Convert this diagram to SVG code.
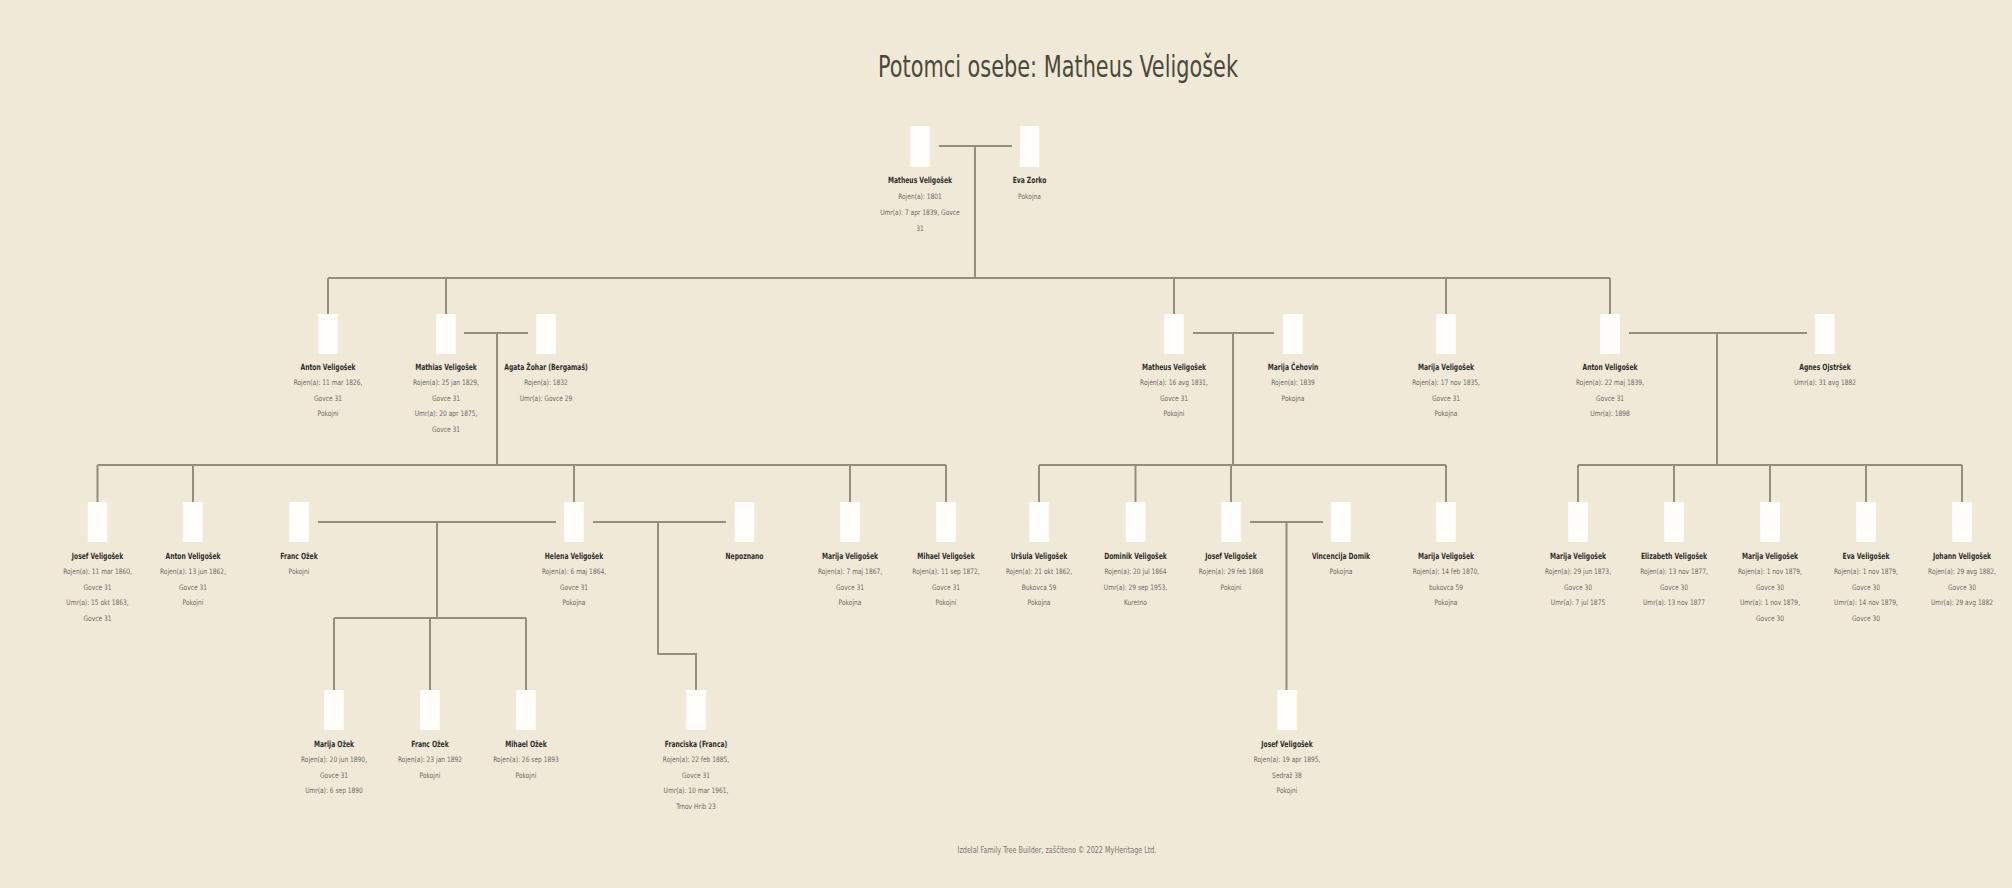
<svg xmlns="http://www.w3.org/2000/svg" width="2012" height="888" viewBox="0 0 2012 888">
<style>
.bg{fill:#f0e9d8}
.box{fill:#fffefa}
.ln{stroke:#958e7d;stroke-width:2;fill:none}
.nm{font-family:"Liberation Sans Narrow","DejaVu Sans Condensed","Liberation Sans",sans-serif;font-weight:bold;font-size:8.5px;fill:#2e2e2a;text-anchor:middle;transform:scaleX(0.79)}
.dt{font-family:"Liberation Sans Narrow","DejaVu Sans Condensed","Liberation Sans",sans-serif;font-size:7.5px;fill:#6e6b63;text-anchor:middle;transform:scaleX(0.88)}
.title{font-family:"Liberation Sans Narrow","DejaVu Sans Condensed","Liberation Sans",sans-serif;font-size:31px;fill:#4a4a3c;text-anchor:middle}
.foot{font-family:"Liberation Sans Narrow","DejaVu Sans Condensed","Liberation Sans",sans-serif;font-size:9px;fill:#7a776e;text-anchor:middle}
</style>
<rect class="bg" x="0" y="0" width="2012" height="888"/>
<text class="title" x="1058" y="77" textLength="360" lengthAdjust="spacingAndGlyphs">Potomci osebe: Matheus Veligošek</text>

<g id="connectors">
<path class="ln" d="M939 146H1012M975 146V278M328 278H1610M328 278V314M446 278V314M1174 278V314M1446 278V314M1610 278V314"/>
<path class="ln" d="M464 333H528M497 333V465M97.5 465H946M97.5 465V502M193 465V502M574 465V502M850 465V502M946 465V502"/>
<path class="ln" d="M1193 333H1274M1233 333V465M1039 465H1446M1039 465V502M1135.5 465V502M1231 465V502M1446 465V502"/>
<path class="ln" d="M1629 333H1807M1717 333V465M1578 465H1962M1578 465V502M1674 465V502M1770 465V502M1866 465V502M1962 465V502"/>
<path class="ln" d="M318 522H556M437 522V618M334 618H526M334 618V690M430 618V690M526 618V690"/>
<path class="ln" d="M593 522H726M658 522V654H696V690"/>
<path class="ln" d="M1250 522H1323M1286.5 522V690"/>
</g>

<g id="n-matheus0" transform="translate(920 0)"><rect class="box" x="-9.75" y="126" width="19.5" height="41"/><text class="nm" y="183">Matheus Veligošek</text><text class="dt" y="199">Rojen(a): 1801</text><text class="dt" y="215.5">Umr(a): 7 apr 1839, Govce</text><text class="dt" y="231">31</text></g>
<g id="n-eva0" transform="translate(1029.5 0)"><rect class="box" x="-9.75" y="126" width="19.5" height="41"/><text class="nm" y="183">Eva Zorko</text><text class="dt" y="199">Pokojna</text></g>

<g id="n-anton1" transform="translate(328 0)"><rect class="box" x="-9.75" y="314" width="19.5" height="40"/><text class="nm" y="370">Anton Veligošek</text><text class="dt" y="385.5">Rojen(a): 11 mar 1826,</text><text class="dt" y="401">Govce 31</text><text class="dt" y="416.5">Pokojni</text></g>
<g id="n-mathias1" transform="translate(446 0)"><rect class="box" x="-9.75" y="314" width="19.5" height="40"/><text class="nm" y="370">Mathias Veligošek</text><text class="dt" y="385.5">Rojen(a): 25 jan 1829,</text><text class="dt" y="401">Govce 31</text><text class="dt" y="416.5">Umr(a): 20 apr 1875,</text><text class="dt" y="432">Govce 31</text></g>
<g id="n-agata1" transform="translate(546 0)"><rect class="box" x="-9.75" y="314" width="19.5" height="40"/><text class="nm" y="370">Agata Žohar (Bergamaš)</text><text class="dt" y="385.5">Rojen(a): 1832</text><text class="dt" y="401">Umr(a): Govce 29</text></g>
<g id="n-matheus1" transform="translate(1174 0)"><rect class="box" x="-9.75" y="314" width="19.5" height="40"/><text class="nm" y="370">Matheus Veligošek</text><text class="dt" y="385.5">Rojen(a): 16 avg 1831,</text><text class="dt" y="401">Govce 31</text><text class="dt" y="416.5">Pokojni</text></g>
<g id="n-marijac1" transform="translate(1293 0)"><rect class="box" x="-9.75" y="314" width="19.5" height="40"/><text class="nm" y="370">Marija Čehovin</text><text class="dt" y="385.5">Rojen(a): 1839</text><text class="dt" y="401">Pokojna</text></g>
<g id="n-marija1" transform="translate(1446 0)"><rect class="box" x="-9.75" y="314" width="19.5" height="40"/><text class="nm" y="370">Marija Veligošek</text><text class="dt" y="385.5">Rojen(a): 17 nov 1835,</text><text class="dt" y="401">Govce 31</text><text class="dt" y="416.5">Pokojna</text></g>
<g id="n-anton1b" transform="translate(1610 0)"><rect class="box" x="-9.75" y="314" width="19.5" height="40"/><text class="nm" y="370">Anton Veligošek</text><text class="dt" y="385.5">Rojen(a): 22 maj 1839,</text><text class="dt" y="401">Govce 31</text><text class="dt" y="416.5">Umr(a): 1898</text></g>
<g id="n-agnes1" transform="translate(1825 0)"><rect class="box" x="-9.75" y="314" width="19.5" height="40"/><text class="nm" y="370">Agnes  Ojstršek</text><text class="dt" y="385.5">Umr(a): 31 avg 1882</text></g>

<g id="n-josef2" transform="translate(97.5 0)"><rect class="box" x="-9.75" y="502" width="19.5" height="40"/><text class="nm" y="559">Josef Veligošek</text><text class="dt" y="574.5">Rojen(a): 11 mar 1860,</text><text class="dt" y="590">Govce 31</text><text class="dt" y="605.5">Umr(a): 15 okt 1863,</text><text class="dt" y="621">Govce 31</text></g>
<g id="n-anton2" transform="translate(193 0)"><rect class="box" x="-9.75" y="502" width="19.5" height="40"/><text class="nm" y="559">Anton Veligošek</text><text class="dt" y="574.5">Rojen(a): 13 jun 1862,</text><text class="dt" y="590">Govce 31</text><text class="dt" y="605.5">Pokojni</text></g>
<g id="n-franc2" transform="translate(299 0)"><rect class="box" x="-9.75" y="502" width="19.5" height="40"/><text class="nm" y="559">Franc Ožek</text><text class="dt" y="574.5">Pokojni</text></g>
<g id="n-helena2" transform="translate(574 0)"><rect class="box" x="-9.75" y="502" width="19.5" height="40"/><text class="nm" y="559">Helena Veligošek</text><text class="dt" y="574.5">Rojen(a): 6 maj 1864,</text><text class="dt" y="590">Govce 31</text><text class="dt" y="605.5">Pokojna</text></g>
<g id="n-nepoznano2" transform="translate(744.5 0)"><rect class="box" x="-9.75" y="502" width="19.5" height="40"/><text class="nm" y="559">Nepoznano</text></g>
<g id="n-marija2" transform="translate(850 0)"><rect class="box" x="-9.75" y="502" width="19.5" height="40"/><text class="nm" y="559">Marija Veligošek</text><text class="dt" y="574.5">Rojen(a): 7 maj 1867,</text><text class="dt" y="590">Govce 31</text><text class="dt" y="605.5">Pokojna</text></g>
<g id="n-mihael2" transform="translate(946 0)"><rect class="box" x="-9.75" y="502" width="19.5" height="40"/><text class="nm" y="559">Mihael Veligošek</text><text class="dt" y="574.5">Rojen(a): 11 sep 1872,</text><text class="dt" y="590">Govce 31</text><text class="dt" y="605.5">Pokojni</text></g>
<g id="n-ursula2" transform="translate(1039 0)"><rect class="box" x="-9.75" y="502" width="19.5" height="40"/><text class="nm" y="559">Uršula Veligošek</text><text class="dt" y="574.5">Rojen(a): 21 okt 1862,</text><text class="dt" y="590">Bukovca 59</text><text class="dt" y="605.5">Pokojna</text></g>
<g id="n-dominik2" transform="translate(1135.5 0)"><rect class="box" x="-9.75" y="502" width="19.5" height="40"/><text class="nm" y="559">Dominik Veligošek</text><text class="dt" y="574.5">Rojen(a): 20 jul 1864</text><text class="dt" y="590">Umr(a): 29 sep 1953,</text><text class="dt" y="605.5">Kuretno</text></g>
<g id="n-josef2b" transform="translate(1231 0)"><rect class="box" x="-9.75" y="502" width="19.5" height="40"/><text class="nm" y="559">Josef Veligošek</text><text class="dt" y="574.5">Rojen(a): 29 feb 1868</text><text class="dt" y="590">Pokojni</text></g>
<g id="n-vincencija2" transform="translate(1341 0)"><rect class="box" x="-9.75" y="502" width="19.5" height="40"/><text class="nm" y="559">Vincencija Domik</text><text class="dt" y="574.5">Pokojna</text></g>
<g id="n-marija2b" transform="translate(1446 0)"><rect class="box" x="-9.75" y="502" width="19.5" height="40"/><text class="nm" y="559">Marija Veligošek</text><text class="dt" y="574.5">Rojen(a): 14 feb 1870,</text><text class="dt" y="590">bukovca 59</text><text class="dt" y="605.5">Pokojna</text></g>
<g id="n-marija2c" transform="translate(1578 0)"><rect class="box" x="-9.75" y="502" width="19.5" height="40"/><text class="nm" y="559">Marija Veligošek</text><text class="dt" y="574.5">Rojen(a): 29 jun 1873,</text><text class="dt" y="590">Govce 30</text><text class="dt" y="605.5">Umr(a): 7 jul 1875</text></g>
<g id="n-elizabeth2" transform="translate(1674 0)"><rect class="box" x="-9.75" y="502" width="19.5" height="40"/><text class="nm" y="559">Elizabeth Veligošek</text><text class="dt" y="574.5">Rojen(a): 13 nov 1877,</text><text class="dt" y="590">Govce 30</text><text class="dt" y="605.5">Umr(a): 13 nov 1877</text></g>
<g id="n-marija2d" transform="translate(1770 0)"><rect class="box" x="-9.75" y="502" width="19.5" height="40"/><text class="nm" y="559">Marija Veligošek</text><text class="dt" y="574.5">Rojen(a): 1 nov 1879,</text><text class="dt" y="590">Govce 30</text><text class="dt" y="605.5">Umr(a): 1 nov 1879,</text><text class="dt" y="621">Govce 30</text></g>
<g id="n-eva2" transform="translate(1866 0)"><rect class="box" x="-9.75" y="502" width="19.5" height="40"/><text class="nm" y="559">Eva Veligošek</text><text class="dt" y="574.5">Rojen(a): 1 nov 1879,</text><text class="dt" y="590">Govce 30</text><text class="dt" y="605.5">Umr(a): 14 nov 1879,</text><text class="dt" y="621">Govce 30</text></g>
<g id="n-johann2" transform="translate(1962 0)"><rect class="box" x="-9.75" y="502" width="19.5" height="40"/><text class="nm" y="559">Johann Veligošek</text><text class="dt" y="574.5">Rojen(a): 29 avg 1882,</text><text class="dt" y="590">Govce 30</text><text class="dt" y="605.5">Umr(a): 29 avg 1882</text></g>

<g id="n-marija3" transform="translate(334 0)"><rect class="box" x="-9.75" y="690" width="19.5" height="40"/><text class="nm" y="747">Marija Ožek</text><text class="dt" y="762.5">Rojen(a): 20 jun 1890,</text><text class="dt" y="778">Govce 31</text><text class="dt" y="793.5">Umr(a): 6 sep 1890</text></g>
<g id="n-franc3" transform="translate(430 0)"><rect class="box" x="-9.75" y="690" width="19.5" height="40"/><text class="nm" y="747">Franc Ožek</text><text class="dt" y="762.5">Rojen(a): 23 jan 1892</text><text class="dt" y="778">Pokojni</text></g>
<g id="n-mihael3" transform="translate(526 0)"><rect class="box" x="-9.75" y="690" width="19.5" height="40"/><text class="nm" y="747">Mihael Ožek</text><text class="dt" y="762.5">Rojen(a): 26 sep 1893</text><text class="dt" y="778">Pokojni</text></g>
<g id="n-franciska3" transform="translate(696 0)"><rect class="box" x="-9.75" y="690" width="19.5" height="40"/><text class="nm" y="747">Franciska (Franca)</text><text class="dt" y="762.5">Rojen(a): 22 feb 1885,</text><text class="dt" y="778">Govce 31</text><text class="dt" y="793.5">Umr(a): 10 mar 1961,</text><text class="dt" y="809">Trnov Hrib 23</text></g>
<g id="n-josef3" transform="translate(1287 0)"><rect class="box" x="-9.75" y="690" width="19.5" height="40"/><text class="nm" y="747">Josef Veligošek</text><text class="dt" y="762.5">Rojen(a): 19 apr 1895,</text><text class="dt" y="778">Sedraž 38</text><text class="dt" y="793.5">Pokojni</text></g>

<text class="foot" x="1057" y="853" textLength="199" lengthAdjust="spacingAndGlyphs">Izdelal Family Tree Builder, zaščiteno © 2022 MyHeritage Ltd.</text>
</svg>
